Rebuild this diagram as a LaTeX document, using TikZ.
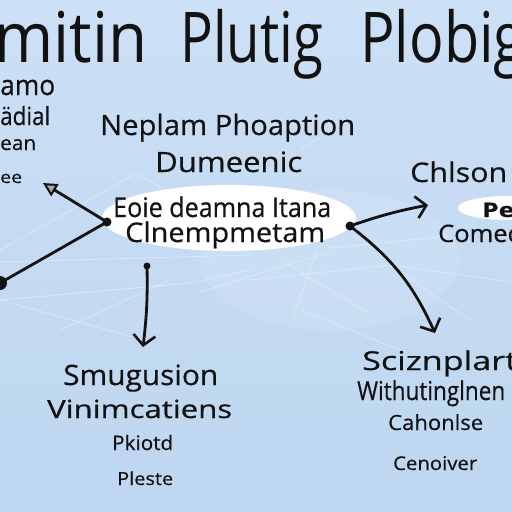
\documentclass[tikz,border=0pt]{standalone}
\usepackage{fontspec}
\usepackage{graphicx}
\setmainfont{Open Sans}[FakeBold=0.5]
\newfontfamily\titlefont{Open Sans}
\usetikzlibrary{arrows.meta,shapes.geometric}

\definecolor{bgtop}{RGB}{204,224,246}
\definecolor{bgbot}{RGB}{190,214,240}
\definecolor{ink}{RGB}{18,18,18}

\newsavebox\fitbox
\newcommand\fitto[2]{\sbox\fitbox{#2}\pgfmathsetmacro\fitf{#1/\wd\fitbox}\scalebox{\fitf}[1]{\usebox\fitbox}}
\newcommand\fs[1]{\fontsize{#1}{#1}\selectfont}

\tikzset{
  lbl/.style={inner sep=0pt, anchor=base west, text=ink},
  ttl/.style={lbl, font=\titlefont\fs{70}},
  vtip/.style={-{Straight Barb[length=10pt,width=22pt,line width=2.6pt]}},
  arr/.style={draw=ink, line width=2.8pt, line cap=round},
  net/.style={draw=white, opacity=0.4, line width=0.7pt},
  blob/.style={circle, fill=ink, inner sep=0pt, minimum size=#1},
}

\begin{document}
\begin{tikzpicture}[x=1pt,y=-1pt]
\shade[top color=bgtop,bottom color=bgbot] (0,0) rectangle (512,512);
\useasboundingbox (0,0) rectangle (512,512);
\fill[white,opacity=0.1] (330,260) ellipse (130pt and 70pt);

% faint network
\draw[net] (0,250) -- (137,173) -- (165,190);
\draw[net] (0,262) -- (250,255);
\draw[net] (0,300) -- (190,283) -- (250,270);
\draw[net] (0,300) -- (150,342);
\draw[net] (60,330) -- (170,280);
\draw[net] (283,262) -- (367,312);
\draw[net] (250,280) -- (390,265) -- (512,282);
\draw[net] (317,250) -- (293,317);
\draw[net] (300,310) -- (400,350);
\draw[net] (330,248) -- (450,236);
\draw[net] (200,292) -- (330,252);
\draw[net] (300,150) -- (322,136);
\draw[net] (390,265) -- (470,320);

% title
\node[ttl] (t1) at (-6,62) {\fitto{153}{mitin}};
\node[ttl] (t2) at (180,62) {\fitto{143}{Plutig}};
\node[ttl] (t3) at (360,62) {\fitto{165}{Plobig}};

% left column
\node[lbl,font=\fs{28}] (l1) at (0,95) {\fitto{55}{amo}};
\node[lbl,font=\fs{25}] (l2) at (0,125) {\fitto{50}{ädial}};
\node[lbl,font=\fs{20}] (l3) at (0,150) {\fitto{36}{ean}};
\node[lbl,font=\fs{17}] (l4) at (0,183) {\fitto{22}{ee}};

% center heading
\node[lbl,font=\fs{28}] (h1) at (100,135) {\fitto{255}{Neplam Phoaption}};
\node[lbl,font=\fs{28}] (h2) at (155,172) {\fitto{147}{Dumeenic}};

% central cloud
\node[ellipse, fill=white, minimum width=254pt, minimum height=66pt, inner sep=0pt] (ell) at (229,218) {};
\node[lbl,font=\fs{27}] (e1) at (113,217) {\fitto{218}{Eoie deamna Itana}};
\node[lbl,font=\fs{27}] (e2) at (125,242) {\fitto{200}{Clnempmetam}};

% right
\node[lbl,font=\fs{27}] (r1) at (410,182) {\fitto{97}{Chlson}};
\node[ellipse, fill=white, minimum width=100pt, minimum height=24pt, inner sep=0pt] (ell2) at (508,208) {};
\node[lbl,font=\fs{20}\bfseries] (r2) at (482,217) {\fitto{32}{Pe}};
\node[lbl,font=\fs{24}] (r3) at (438,242) {\fitto{85}{Comed}};

% bottom left
\node[lbl,font=\fs{28}] (b1) at (63,385) {\fitto{155}{Smugusion}};
\node[lbl,font=\fs{25}] (b2) at (47,418) {\fitto{185}{Vinimcatiens}};
\node[lbl,font=\fs{20}] (b3) at (112,450) {\fitto{61}{Pkiotd}};
\node[lbl,font=\fs{18}] (b4) at (117,485) {\fitto{56}{Pleste}};

% bottom right
\node[lbl,font=\fs{26}] (c1) at (362,370) {\fitto{155}{Sciznplart}};
\node[lbl,font=\fs{26}] (c2) at (357,400) {\fitto{148}{Withutinglnen}};
\node[lbl,font=\fs{21}] (c3) at (388,430) {\fitto{95}{Cahonlse}};
\node[lbl,font=\fs{19}] (c4) at (393,470) {\fitto{84}{Cenoiver}};

% connectors
\coordinate (jl) at (107,222);
\coordinate (tl) at (43,183);
\coordinate (dl) at (0,283);
\coordinate (vs) at (147,266);
\coordinate (ve) at (143,347);
\coordinate (jr) at (350,226);
\coordinate (tr) at (428,205);
\coordinate (br) at (435,333);

\draw[arr, -{Triangle[length=14pt,width=14pt,fill=gray!70,line width=2pt]}] (jl) -- (tl);
\draw[arr] (jl) -- (dl);
\node[blob=9pt] (jld) at (jl) {};
\node[blob=14pt] (dld) at (dl) {};
\draw[arr, vtip] (vs) to[bend left=4] (ve);
\node[blob=7pt] (vsd) at (vs) {};
\draw[arr, vtip] (jr) to[bend left=4] (tr);
\draw[arr, vtip] (jr) to[bend left=14] (br);
\node[blob=9pt] (jrd) at (jr) {};
\end{tikzpicture}
\end{document}
